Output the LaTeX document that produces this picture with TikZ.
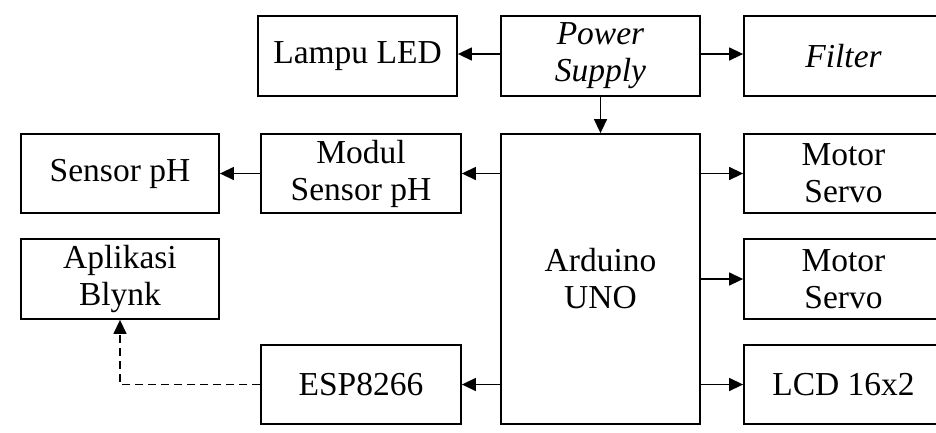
\documentclass[tikz,border=0pt]{standalone}
\usepackage{fontspec}
\setmainfont{Liberation Serif}
\usetikzlibrary{arrows.meta}
\begin{document}
\begin{tikzpicture}[x=1pt,y=-1pt,
  box/.style={draw,line width=1.8pt,inner sep=0pt,align=center,
    font=\fontsize{33.5}{37}\selectfont},
  arr/.style={line width=1.4pt,-{Triangle[length=14pt,width=13pt]}},
  darr/.style={arr,dash pattern=on 8pt off 5pt}]
\fill[white] (0,0) rectangle (936,432);
\useasboundingbox (0,0) rectangle (936,432);
\clip (0,0) rectangle (936,432);
\node[box,minimum width=199pt,minimum height=80pt] (lampu) at (357.5,56) {Lampu LED};
\node[box,minimum width=199pt,minimum height=80pt] (power) at (600.5,56) {\itshape Power\\\itshape Supply};
\node[box,minimum width=199pt,minimum height=80pt] (filter) at (843.5,56) {\itshape Filter};
\node[box,minimum width=198pt,minimum height=79pt] (sensor) at (120,173.5) {Sensor pH};
\node[box,minimum width=200pt,minimum height=79pt] (modul) at (361,173.5) {Modul\\Sensor pH};
\node[box,minimum width=199pt,minimum height=290pt] (arduino) at (600.5,279) {Arduino\\UNO};
\node[box,minimum width=199pt,minimum height=79pt] (motor1) at (843.5,173.5) {Motor\\Servo};
\node[box,minimum width=198pt,minimum height=80pt] (aplikasi) at (120,279) {Aplikasi\\Blynk};
\node[box,minimum width=199pt,minimum height=80pt] (motor2) at (843.5,279) {Motor\\Servo};
\node[box,minimum width=200pt,minimum height=79pt] (esp) at (361,384.5) {ESP8266};
\node[box,minimum width=199pt,minimum height=79pt] (lcd) at (843.5,384.5) {LCD 16x2};
\draw[arr] (power.west |- 0,54) -- (lampu.east |- 0,54);
\draw[arr] (power.east |- 0,54) -- (filter.west |- 0,54);
\draw[arr] (power.south) -- (arduino.north);
\draw[arr] (arduino.west |- modul.east) -- (modul.east);
\draw[arr] (modul.west) -- (sensor.east);
\draw[arr] (arduino.east |- motor1.west) -- (motor1.west);
\draw[arr] (arduino.east |- motor2.west) -- (motor2.west);
\draw[arr] (arduino.east |- lcd.west) -- (lcd.west);
\draw[arr] (arduino.west |- esp.east) -- (esp.east);
\draw[darr] (esp.west) -| (aplikasi.south);
\end{tikzpicture}
\end{document}
